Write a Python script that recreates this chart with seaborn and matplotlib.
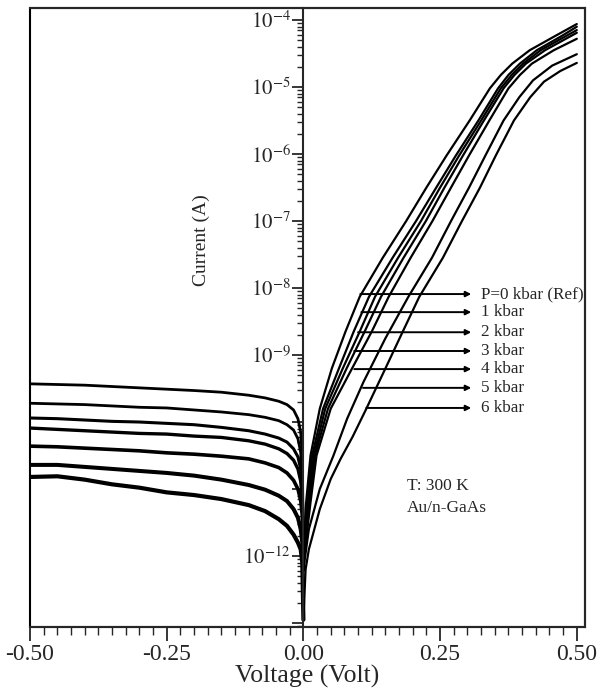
import numpy as np
import pandas as pd
import matplotlib
matplotlib.use('Agg')
import matplotlib.pyplot as plt
from matplotlib.patches import Rectangle
from matplotlib.ticker import FixedLocator, FuncFormatter, LogLocator, MultipleLocator
import seaborn as sns

sns.set_style('ticks')
plt.rcParams['font.family'] = ['Liberation Serif', 'DejaVu Serif']
plt.rcParams['mathtext.fontset'] = 'stix'

# --- data: log10(current in A) ---
labels = ['P=0 kbar (Ref)', '1 kbar', '2 kbar', '3 kbar', '4 kbar', '5 kbar', '6 kbar']

# reverse branch, shared voltage grid
rev_v = [-0.5, -0.45, -0.4, -0.35, -0.3, -0.25, -0.2, -0.15, -0.1, -0.07, -0.045, -0.03,
         -0.018, -0.01, -0.005, -0.002, 0.0]
rev_logi = [
    [-9.43, -9.44, -9.45, -9.47, -9.49, -9.51, -9.53, -9.555, -9.60, -9.64, -9.69, -9.74,
     -9.82, -9.95, -10.15, -10.5, -12.1],
    [-9.72, -9.73, -9.74, -9.76, -9.78, -9.79, -9.82, -9.85, -9.89, -9.93, -9.98, -10.04,
     -10.12, -10.25, -10.45, -10.8, -12.1],
    [-9.94, -9.95, -9.97, -9.99, -10.0, -10.02, -10.04, -10.08, -10.13, -10.18, -10.24, -10.3,
     -10.4, -10.52, -10.7, -11.0, -12.1],
    [-10.09, -10.11, -10.13, -10.15, -10.17, -10.18, -10.21, -10.23, -10.28, -10.33, -10.4, -10.47,
     -10.57, -10.7, -10.88, -11.15, -12.1],
    [-10.36, -10.37, -10.39, -10.41, -10.43, -10.46, -10.48, -10.51, -10.55, -10.61, -10.68, -10.76,
     -10.87, -11.0, -11.17, -11.4, -12.1],
    [-10.64, -10.64, -10.67, -10.70, -10.73, -10.76, -10.80, -10.86, -10.94, -11.01, -11.1, -11.18,
     -11.3, -11.43, -11.6, -11.8, -12.2],
    [-10.82, -10.81, -10.86, -10.93, -10.98, -11.05, -11.09, -11.15, -11.24, -11.33, -11.45, -11.55,
     -11.68, -11.8, -11.9, -12.1, -12.95],
]

# forward branch, one voltage list per curve
fwd_v = [
    [0.0, 0.005, 0.013, 0.03, 0.052, 0.077, 0.103, 0.145, 0.188, 0.225, 0.262, 0.304, 0.341, 0.361,
     0.382, 0.414, 0.46, 0.50],
    [0.0, 0.007, 0.016, 0.036, 0.065, 0.092, 0.120, 0.163, 0.206, 0.243, 0.279, 0.320, 0.356, 0.375,
     0.396, 0.427, 0.472, 0.50],
    [0.0, 0.009, 0.019, 0.04, 0.072, 0.103, 0.131, 0.173, 0.215, 0.25, 0.285, 0.325, 0.361, 0.381,
     0.402, 0.434, 0.48, 0.50],
    [0.0, 0.011, 0.021, 0.045, 0.079, 0.112, 0.142, 0.183, 0.224, 0.258, 0.292, 0.33, 0.366, 0.386,
     0.407, 0.442, 0.50],
    [0.0, 0.013, 0.024, 0.05, 0.089, 0.125, 0.156, 0.196, 0.236, 0.27, 0.303, 0.34, 0.375, 0.396,
     0.418, 0.458, 0.50],
    [0.0, 0.01, 0.03, 0.055, 0.08, 0.11, 0.15, 0.192, 0.235, 0.27, 0.303, 0.333, 0.366, 0.395,
     0.42, 0.455, 0.50],
    [0.0, 0.004, 0.01, 0.03, 0.05, 0.068, 0.09, 0.114, 0.15, 0.18, 0.212, 0.255, 0.29, 0.323, 0.352,
     0.385, 0.415, 0.44, 0.47, 0.50],
]
fwd_logi = [
    [-12.1, -11.2, -10.5, -9.8, -9.2, -8.65, -8.13, -7.55, -7.0, -6.5, -6.02, -5.5, -5.02, -4.82,
     -4.65, -4.45, -4.24, -4.06],
    [-12.1, -11.2, -10.5, -9.8, -9.2, -8.65, -8.13, -7.55, -7.0, -6.5, -6.02, -5.5, -5.02, -4.82,
     -4.65, -4.45, -4.24, -4.10],
    [-12.1, -11.2, -10.5, -9.8, -9.2, -8.65, -8.13, -7.55, -7.0, -6.5, -6.02, -5.5, -5.02, -4.82,
     -4.65, -4.45, -4.24, -4.15],
    [-12.1, -11.2, -10.5, -9.8, -9.2, -8.65, -8.13, -7.55, -7.0, -6.5, -6.02, -5.5, -5.02, -4.82,
     -4.65, -4.45, -4.19],
    [-12.1, -11.2, -10.5, -9.8, -9.2, -8.65, -8.13, -7.55, -7.0, -6.5, -6.02, -5.5, -5.02, -4.82,
     -4.65, -4.45, -4.28],
    [-12.2, -11.6, -11.0, -10.5, -9.95, -9.4, -8.75, -8.13, -7.55, -7.0, -6.5, -6.02, -5.5, -5.15,
     -4.9, -4.68, -4.51],
    [-12.95, -12.2, -11.9, -11.3, -10.85, -10.55, -10.22, -9.82, -9.2, -8.68, -8.13, -7.55, -7.0, -6.5,
     -6.02, -5.5, -5.15, -4.92, -4.76, -4.64],
]

# arrow start points (V, log10 I)
arrow_v = [0.104, 0.106, 0.100, 0.093, 0.093, 0.109, 0.115]
arrow_logi = [-8.09, -8.36, -8.66, -8.94, -9.21, -9.49, -9.79]
arrow_tip_v = 0.307
label_v = 0.325

# --- build frames ---
rows = []
for k, lab in enumerate(labels):
    for v, li in zip(rev_v, rev_logi[k]):
        rows.append({'V': v, 'I': 10.0 ** li, 'P': lab, 'branch': 'rev'})
    for v, li in zip(fwd_v[k], fwd_logi[k]):
        rows.append({'V': v, 'I': 10.0 ** li, 'P': lab, 'branch': 'fwd'})
df = pd.DataFrame(rows)

fig = plt.figure(figsize=(6.0, 6.94), dpi=100)
ax = fig.add_axes([0.05, 0.0965, 0.925, 0.892])
ax.set_yscale('log')

rev_lw = [2.0, 2.0, 2.2, 2.4, 2.6, 2.9, 3.0]
for k, lab in enumerate(labels):
    sub = df[df['P'] == lab]
    sns.lineplot(data=sub[sub['branch'] == 'rev'], x='V', y='I', color='black',
                 lw=rev_lw[k], estimator=None, sort=False, ax=ax)
    sns.lineplot(data=sub[sub['branch'] == 'fwd'], x='V', y='I', color='black',
                 lw=1.6, estimator=None, sort=False, ax=ax)

ax.set_xlim(-0.5, 0.515)
ax.set_ylim(10 ** -13.06, 10 ** -3.82)

# y axis sits at V = 0, frame drawn separately
for s in ['top', 'right', 'bottom']:
    ax.spines[s].set_linewidth(1.5)
ax.spines['left'].set_position(('data', 0))
ax.spines['left'].set_linewidth(1.5)
ax.add_patch(Rectangle((0, 0), 1, 1, transform=ax.transAxes, fill=False,
                       edgecolor='black', lw=1.5, clip_on=False))

shown = {-12, -9, -8, -7, -6, -5, -4}
ax.yaxis.set_major_locator(FixedLocator([10.0 ** e for e in range(-13, -3)]))
ax.yaxis.set_major_formatter(FuncFormatter(
    lambda y, pos: f'$10^{{{int(round(np.log10(y)))}}}$' if int(round(np.log10(y))) in shown else ''))
ax.yaxis.set_minor_locator(LogLocator(base=10, subs=np.arange(2, 10), numticks=20))
ax.yaxis.set_minor_formatter(FuncFormatter(lambda y, pos: ''))
ax.tick_params(axis='y', which='major', direction='out', length=8, width=1.3, labelsize=15, pad=1)
ax.tick_params(axis='y', which='minor', direction='out', length=4.5, width=1.0)

ax.xaxis.set_major_locator(FixedLocator([-0.5, -0.25, 0.0, 0.25, 0.5]))
ax.xaxis.set_major_formatter(FuncFormatter(lambda x, pos: f'{x:.2f}'))
ax.xaxis.set_minor_locator(MultipleLocator(0.025))
ax.tick_params(axis='x', which='major', direction='out', length=10, width=1.3, labelsize=17, pad=2)
ax.tick_params(axis='x', which='minor', direction='out', length=6, width=1.0)

ax.set_xlabel('Voltage (Volt)', fontsize=18.5, labelpad=0)
ax.set_ylabel('Current (A)', fontsize=14)
ax.yaxis.set_label_coords(0.325, 0.625)

for v, li, lab in zip(arrow_v, arrow_logi, labels):
    ax.annotate('', xy=(arrow_tip_v, 10 ** li), xytext=(v, 10 ** li),
                arrowprops=dict(arrowstyle='-|>', color='black', lw=1.4, mutation_scale=8,
                                shrinkA=0, shrinkB=0))
    ax.text(label_v, 10 ** li, lab, fontsize=12.3, va='center', ha='left')

ax.text(0.19, 10 ** -10.95, 'T: 300 K', fontsize=12.5, ha='left', va='center')
ax.text(0.19, 10 ** -11.28, 'Au/n-GaAs', fontsize=12.5, ha='left', va='center')

fig.savefig('out.png', dpi=100)
